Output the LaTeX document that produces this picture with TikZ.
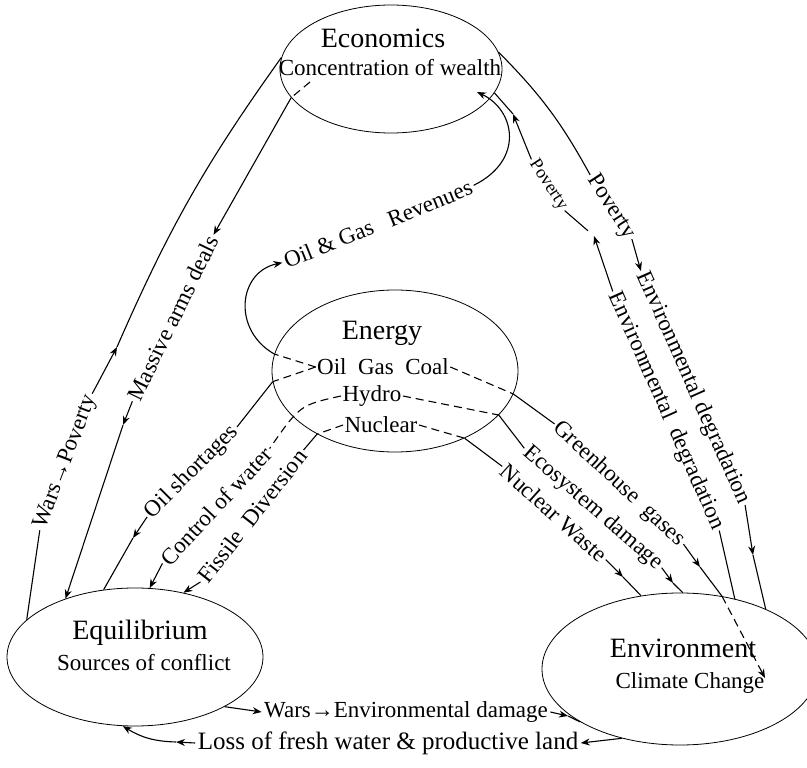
\documentclass[tikz,border=0pt]{standalone}
\usepackage{fontspec}
\setmainfont{Liberation Serif}
\usetikzlibrary{shapes.geometric,arrows.meta}

\begin{document}
\begin{tikzpicture}[x=1pt,y=-1pt,line width=1.1pt,
    kreis/.style={draw,ellipse,line width=0.8pt,inner sep=0pt},
    titel/.style={font=\fontsize{28}{30}\selectfont},
    unter/.style={font=\fontsize{23}{25}\selectfont,inner sep=1pt},
    pfeil/.style={font=\fontsize{23}{25}\selectfont,inner sep=2pt},
    strich/.style={dash pattern=on 8pt off 5pt},
    >={Stealth[length=9pt,width=7pt]}]
  \useasboundingbox (0,0) rectangle (807,768);
  % Ellipsen
  \node[kreis,minimum width=222pt,minimum height=128pt] (econ) at (391,69) {};
  \node[kreis,minimum width=246pt,minimum height=162pt] (energie) at (395,371) {};
  \node[kreis,minimum width=256pt,minimum height=138pt] (equ) at (135,657) {};
  \node[kreis,minimum width=276pt,minimum height=152pt] (umw) at (680,669) {};
  % Texte in den Ellipsen
  \node[titel] (econtitel) at (383,38) {Economics};
  \node[unter] (econsub) at (390,68) {Concentration of wealth};
  \node[titel] (energietitel) at (382,333) {Energy};
  \node[unter] (ogc) at (383,367) {Oil\ \ Gas\ \ Coal};
  \node[unter] (hydro) at (372,396) {Hydro};
  \node[unter] (nuklear) at (381,425) {Nuclear};
  \node[titel] (equtitel) at (140,633) {Equilibrium};
  \node[unter] (equsub) at (144,663) {Sources of conflict};
  \node[titel] (umwtitel) at (683,648) {Environment};
  \node[unter] (umwsub) at (690,683) {Climate Change};
  % Beschriftungen
  \node[pfeil,rotate=69] (warspov) at (66,462) {Wars→Poverty};
  \node[pfeil,rotate=64] (arms) at (173,318) {Massive arms deals};
  \node[pfeil,rotate=22] (revenue) at (378,224) {Oil \& Gas\ \ \ Revenues};
  \node[pfeil,rotate=45] (oilsh) at (192,472) {Oil shortages};
  \node[pfeil,rotate=47] (wasser) at (216,506) {Control of water};
  \node[pfeil,rotate=52] (fissile) at (252,516) {Fissile\ \ Diversion};
  \node[pfeil,rotate=-57] (povaus) at (611,207) {Poverty};
  \node[pfeil,rotate=-66] (degaus) at (693,388) {Environmental degradation};
  \node[pfeil,rotate=-57,font=\fontsize{18}{20}\selectfont] (povin) at (548,185) {Poverty};
  \node[pfeil,rotate=-66] (degin) at (666,411) {Environmental\ \ degradation};
  \node[pfeil,rotate=-43] (green) at (619,484) {Greenhouse\ \ gases};
  \node[pfeil,rotate=-41] (eco) at (593,508) {Ecosystem damage};
  \node[pfeil,rotate=-42] (nucw) at (554,513) {Nuclear Waste};
  \node[pfeil] (wars) at (406,712) {Wars→Environmental damage};
  \node[pfeil,font=\fontsize{25}{27}\selectfont] (loss) at (388,743) {Loss of fresh water \& productive land};
  % Hilfspunkte
  \coordinate (wptip) at (117,347);
  \coordinate (armsin) at (310,82);
  \coordinate (armstip) at (123,425);
  \coordinate (revtip) at (477,92);
  \coordinate (ostip) at (133,538);
  \coordinate (ghtip) at (700,567);
  \coordinate (ccspitze) at (765,678);
  \coordinate (ecotip) at (673,583);
  \coordinate (nuctip) at (623,577);
  \coordinate (dgtip) at (753,555);
  \coordinate (pvtip) at (594,236);
  \coordinate (pitip) at (513,114);
  \coordinate (wdtip) at (568,716);
  \coordinate (lstip) at (176,742);
  % Economics - Equilibrium
  \draw (econ.174) to[bend right=6] (wptip);
  \draw[->] (warspov.east) -- (wptip);
  \draw (warspov.west) -- (equ.161);
  \draw[strich] (armsin) -- (econ.196);
  \draw[->] (econ.196) -- (arms.east);
  \draw[->] (arms.west) -- (armstip);
  \draw[->] (armstip) -- (equ.140);
  % Energy - Economics
  \draw[strich] (ogc.west) -- (energie.172);
  \draw[->] (energie.172) .. controls (232,330) and (238,272) .. (revenue.west);
  \draw[->] (revenue.east) .. controls (525,160) and (515,110) .. (revtip);
  % Energy - Equilibrium
  \draw[strich] (ogc.west) -- (energie.185);
  \draw (energie.185) -- (oilsh.east);
  \draw[->] (oilsh.west) -- (ostip);
  \draw (ostip) -- (equ.115);
  \draw[strich] (hydro.west) .. controls (300,405) .. (wasser.east);
  \draw[->] (wasser.west) -- (equ.78);
  \draw[strich] (nuklear.west) -- (energie.219);
  \draw (energie.219) -- (fissile.east);
  \draw[->] (fissile.west) -- (equ.53);
  % Energy - Environment
  \draw[strich] (ogc.east) -- (energie.349);
  \draw (energie.349) -- (green.west);
  \draw[->] (green.east) -- (ghtip);
  \draw (ghtip) -- (umw.60);
  \draw[strich,->] (umw.60) -- (ccspitze);
  \draw[strich] (hydro.east) -- (energie.337);
  \draw (energie.337) -- (eco.west);
  \draw[->] (eco.east) -- (ecotip);
  \draw (ecotip) -- (umw.88);
  \draw[strich] (nuklear.east) -- (energie.316);
  \draw (energie.316) -- (nucw.west);
  \draw[->] (nucw.east) -- (nuctip);
  \draw (nuctip) -- (umw.118);
  % Economics - Environment
  \draw (econ.9) to[bend left=8] (povaus.west);
  \draw[->] (povaus.east) -- (degaus.west);
  \draw[->] (degaus.east) -- (dgtip);
  \draw (dgtip) -- (umw.35);
  \draw (umw.52) -- (degin.east);
  \draw[->] (degin.west) -- (pvtip);
  \draw[shorten <=8pt] (pvtip) -- (povin.east);
  \draw[->] (povin.west) -- (pitip);
  \draw (pitip) -- (econ.347);
  % Equilibrium - Environment
  \draw[->] (equ.331) -- (wars.west);
  \draw[->] (wars.east) -- (wdtip);
  \draw (wdtip) -- (umw.208);
  \draw[->] (umw.230) -- (loss.east);
  \draw[->] (loss.west) -- (lstip);
  \draw[->] (lstip) to[bend left=15] (equ.260);
\end{tikzpicture}
\end{document}
